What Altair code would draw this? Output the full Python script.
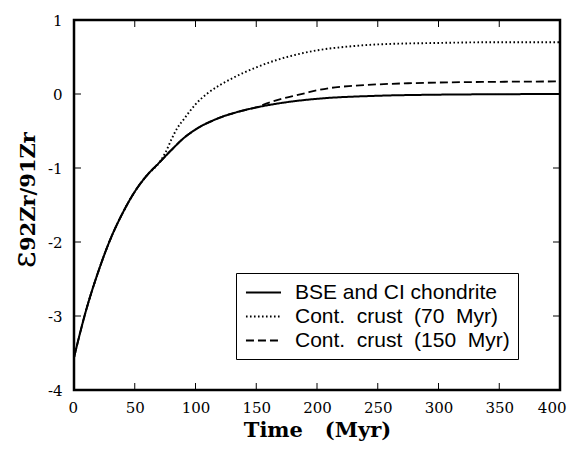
import altair as alt
import pandas as pd

# ---- data ----
series_names = [
    "BSE and CI chondrite",
    "Cont.\u00a0\u00a0crust\u00a0\u00a0(70\u00a0\u00a0Myr)",
    "Cont.\u00a0\u00a0crust\u00a0\u00a0(150\u00a0\u00a0Myr)",
]

time_bse = [0, 10, 20, 30, 40, 50, 60, 70, 80, 90, 100, 120, 140, 160, 180, 200, 250, 300, 350, 400]
eps_bse = [-3.56, -2.92, -2.40, -1.96, -1.61, -1.32, -1.10, -0.93, -0.76, -0.60, -0.48,
           -0.32, -0.22, -0.15, -0.10, -0.065, -0.024, -0.009, -0.003, 0.0]

time_70 = [0, 10, 20, 30, 40, 50, 60, 70, 75, 80, 85, 90, 95, 100, 110, 120, 130, 140,
           150, 165, 180, 200, 225, 250, 300, 350, 400]
eps_70 = [-3.56, -2.92, -2.40, -1.96, -1.61, -1.32, -1.10, -0.93, -0.80, -0.62, -0.46,
          -0.35, -0.24, -0.14, 0.01, 0.12, 0.21, 0.29, 0.36, 0.45, 0.52, 0.59, 0.64,
          0.67, 0.69, 0.70, 0.70]

time_150 = [0, 10, 20, 30, 40, 50, 60, 70, 80, 90, 100, 120, 140, 150, 160, 170, 180,
            190, 200, 215, 230, 250, 275, 300, 350, 400]
eps_150 = [-3.56, -2.92, -2.40, -1.96, -1.61, -1.32, -1.10, -0.93, -0.76, -0.60, -0.48,
           -0.32, -0.22, -0.18, -0.12, -0.07, -0.03, 0.01, 0.05, 0.09, 0.11, 0.13,
           0.145, 0.155, 0.165, 0.17]

x_ticks = [0, 50, 100, 150, 200, 250, 300, 350, 400]
y_ticks = [-4, -3, -2, -1, 0, 1]
x_inner_ticks = [50, 100, 150, 200, 250, 300, 350]
y_inner_ticks = [-3, -2, -1, 0]

rows = []
for name, ts, vs in zip(series_names, [time_bse, time_70, time_150], [eps_bse, eps_70, eps_150]):
    for t, v in zip(ts, vs):
        rows.append({"Time": t, "eps": v, "series": name})
df = pd.DataFrame(rows)

W, H = 486, 370
xscale = alt.Scale(domain=[0, 400], nice=False, zero=False)
yscale = alt.Scale(domain=[-4, 1], nice=False, zero=False)

serif = "DejaVu Serif"

x_axis = alt.Axis(
    values=x_ticks, title="Time\u00a0\u00a0\u00a0(Myr)", titleFont=serif,
    titleFontWeight="bold", titleFontSize=21, titleColor="black", titleY=46,
    titleBaseline="alphabetic", labelFont=serif, labelFontSize=15, labelColor="black",
    labelPadding=10, labelFlush=True, labelFlushOffset=6, labelOverlap=False,
    ticks=False, domain=False, grid=False)
y_axis = alt.Axis(
    values=y_ticks, title="", labelFont=serif, labelFontSize=15, labelColor="black",
    labelPadding=12, labelFlush=False, labelOverlap=False, ticks=False, domain=False,
    grid=False, labelExpr="replace(datum.label, '\u2212', '-')")

lines = alt.Chart(df).mark_line(color="black", interpolate="monotone").encode(
    x=alt.X("Time:Q", scale=xscale, axis=x_axis),
    y=alt.Y("eps:Q", scale=yscale, axis=y_axis),
    strokeDash=alt.StrokeDash("series:N", scale=alt.Scale(
        domain=series_names, range=[[1, 0], [1.6, 2.4], [8, 4]]),
        legend=alt.Legend(
            orient="none", legendX=162, legendY=253, title=None,
            symbolType="M-1.67,0H1.67", symbolSize=441, symbolOffset=8,
            symbolStrokeColor="black", symbolStrokeWidth=1.5,
            labelFont="Liberation Sans", labelFontSize=21, labelColor="black",
            labelOffset=20, labelLimit=400, strokeColor="black", fillColor="white",
            padding=8, rowPadding=2)),
    strokeWidth=alt.StrokeWidth("series:N", scale=alt.Scale(
        domain=series_names, range=[2, 1.8, 2.8]), legend=None),
)

xt = pd.DataFrame({"Time": x_inner_ticks})
yt = pd.DataFrame({"eps": y_inner_ticks})

tick_bottom = alt.Chart(xt).mark_rule(color="black", strokeWidth=1).encode(
    x=alt.X("Time:Q", scale=xscale, axis=x_axis), y=alt.value(H), y2=alt.value(H - 7))
tick_top = alt.Chart(xt).mark_rule(color="black", strokeWidth=1).encode(
    x=alt.X("Time:Q", scale=xscale, axis=x_axis), y=alt.value(0), y2=alt.value(7))
tick_left = alt.Chart(yt).mark_rule(color="black", strokeWidth=1).encode(
    y=alt.Y("eps:Q", scale=yscale, axis=y_axis), x=alt.value(0), x2=alt.value(7))
tick_right = alt.Chart(yt).mark_rule(color="black", strokeWidth=1).encode(
    y=alt.Y("eps:Q", scale=yscale, axis=y_axis), x=alt.value(W), x2=alt.value(W - 7))

eps_label = alt.Chart(pd.DataFrame({"lab": ["ε"]})).mark_text(
    font=serif, fontSize=32, angle=270, align="left", baseline="alphabetic", color="black"
).encode(text="lab:N", x=alt.value(-39), y=alt.value(248))

sub_label = alt.Chart(pd.DataFrame({"lab": ["92Zr/91Zr"]})).mark_text(
    font=serif, fontSize=21, fontWeight="bold", angle=270, align="left",
    baseline="alphabetic", color="black"
).encode(text="lab:N", x=alt.value(-39), y=alt.value(231))

chart = alt.layer(
    lines, tick_bottom, tick_top, tick_left, tick_right, eps_label, sub_label
).properties(
    width=W, height=H,
    autosize=alt.AutoSizeParams(type="none"),
    padding={"left": 66, "top": 12, "right": 7, "bottom": 51},
).configure_view(stroke="black", strokeWidth=2.5)

chart.save("out.html", embed_options={"renderer": "svg", "actions": False})
